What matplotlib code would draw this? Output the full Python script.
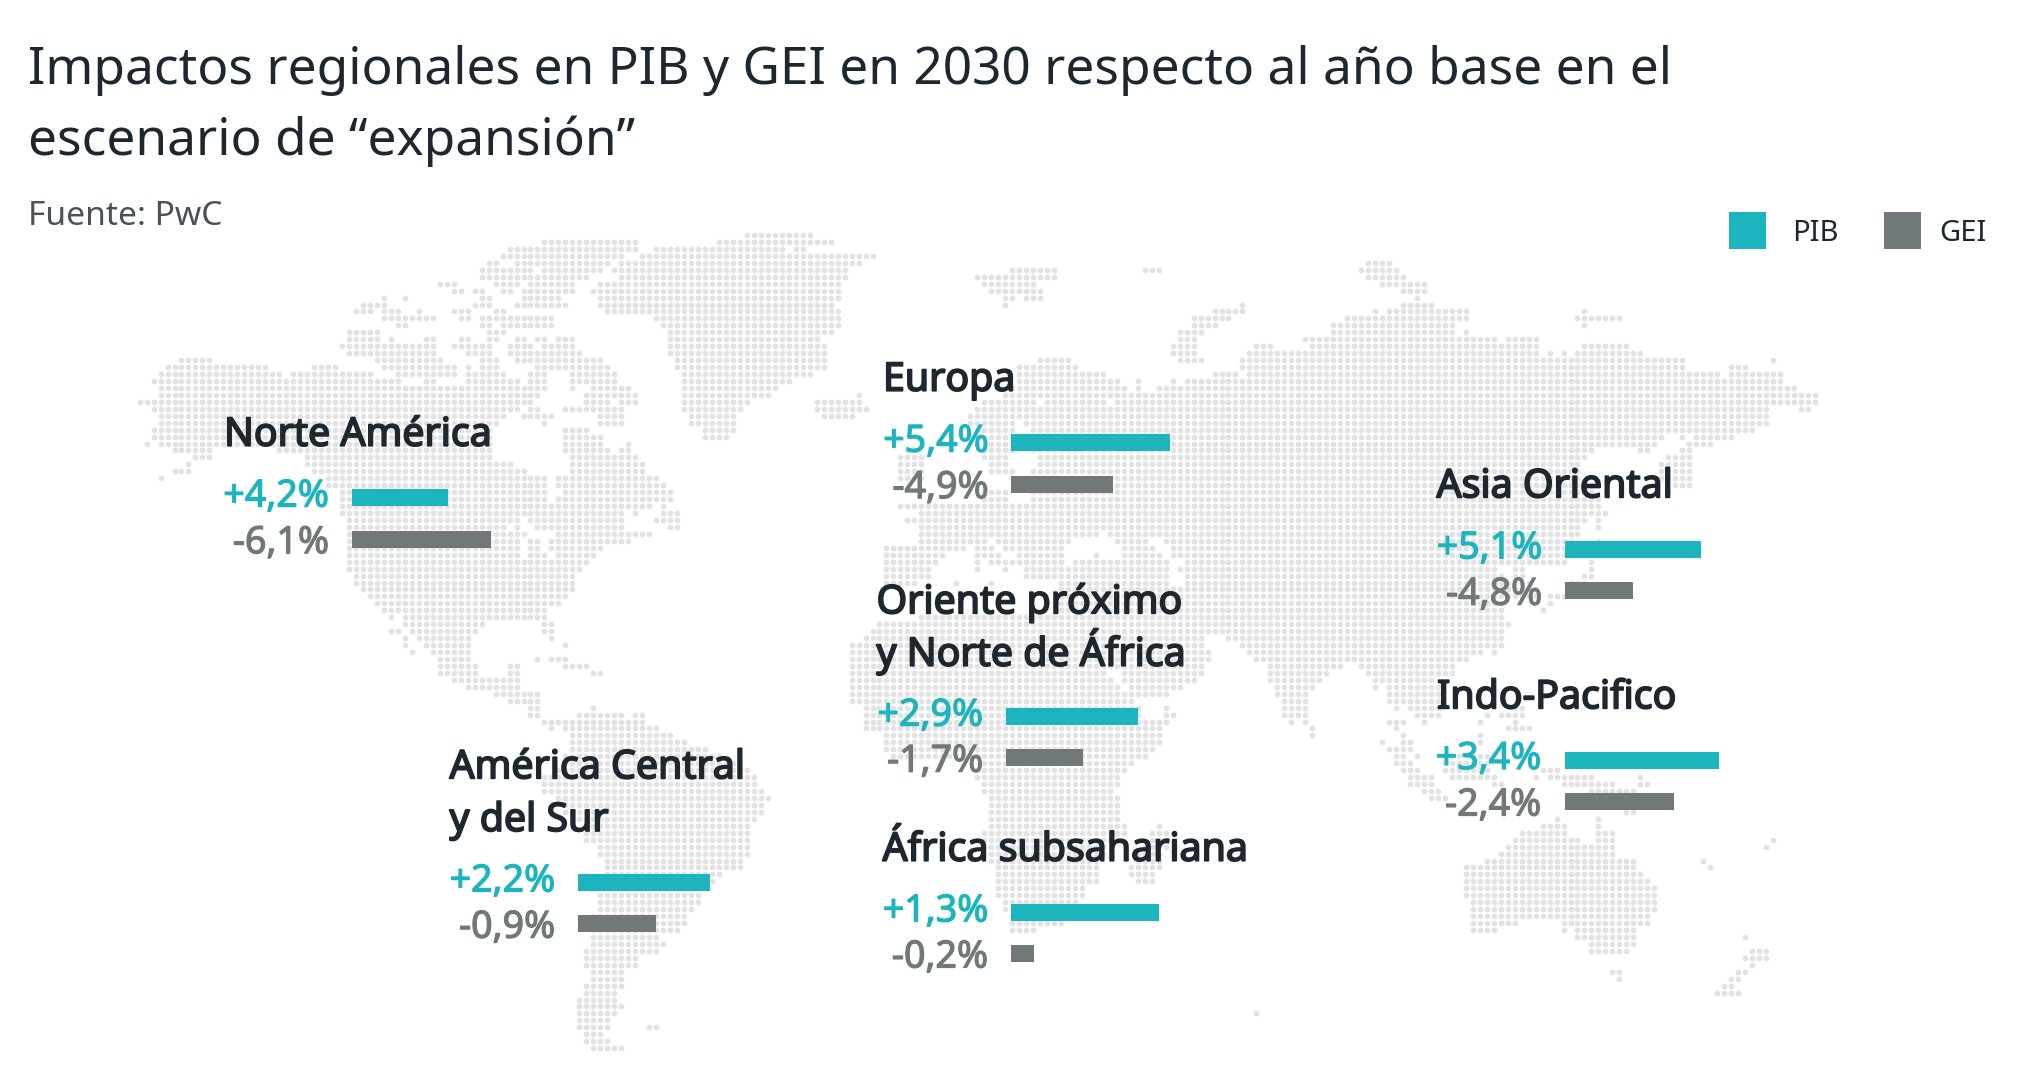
import matplotlib
matplotlib.use('Agg')
import matplotlib.pyplot as plt
import matplotlib.patheffects as pe

plt.rcParams['font.family'] = ['Noto Sans', 'Open Sans', 'DejaVu Sans']

# text and values
title_lines = ['Impactos regionales en PIB y GEI en 2030 respecto al año base en el',
               'escenario de “expansión”']
source = 'Fuente: PwC'
regions = [['Norte América'], ['América Central', 'y del Sur'], ['Europa'],
           ['Oriente próximo', 'y Norte de África'], ['África subsahariana'],
           ['Asia Oriental'], ['Indo-Pacifico']]
pib_labels = ['+4,2%', '+2,2%', '+5,4%', '+2,9%', '+1,3%', '+5,1%', '+3,4%']
gei_labels = ['-6,1%', '-0,9%', '-4,9%', '-1,7%', '-0,2%', '-4,8%', '-2,4%']
# bar lengths as drawn in the picture (they do not follow the labels)
pib_bars = [95.5, 132, 159, 132, 148, 136, 154]
gei_bars = [138.5, 78, 102, 77, 23, 68, 109]

# dot map: row -> runs of land columns
land = {
0: [(107,116)],
1: [(78,91),(103,119)],
2: [(73,91),(94,97),(98,112),(114,115)],
3: [(72,89),(92,118),(119,125)],
4: [(70,71),(74,87),(89,123),(196,199)],
5: [(69,76),(78,86),(88,121),(145,151),(164,166),(195,200)],
6: [(69,84),(89,121),(140,146),(147,151),(196,201)],
7: [(63,65),(71,74),(76,82),(86,120),(141,148),(198,204)],
8: [(65,66),(68,69),(72,73),(75,82),(85,120),(142,146),(147,149),(201,204)],
9: [(55,55),(58,58),(69,70),(75,80),(86,120),(144,145),(147,149),(203,203)],
10: [(52,55),(68,70),(74,81),(86,119),(144,144),(178,178),(201,205)],
11: [(51,53),(55,57),(60,60),(65,67),(71,72),(87,120),(174,178),(197,197),(199,210),(227,227)],
12: [(55,62),(66,67),(69,79),(94,120),(171,176),(193,210),(226,231),(232,232)],
13: [(57,58),(69,70),(72,79),(95,120),(171,174),(191,208),(227,227)],
14: [(50,54),(70,72),(96,119),(169,172),(191,208),(210,210)],
15: [(50,54),(56,56),(61,62),(66,67),(70,71),(74,75),(77,78),(80,82),(96,117),(169,171),(187,214),(216,220)],
16: [(49,53),(54,62),(65,70),(73,76),(78,82),(96,118),(168,171),(180,182),(188,220),(227,233)],
17: [(50,62),(67,70),(73,83),(96,118),(168,171),(179,182),(183,220),(222,222),(224,224),(226,235)],
18: [(26,30),(54,63),(69,71),(74,86),(97,118),(149,153),(169,172),(178,182),(183,241),(254,254)],
19: [(24,38),(45,48),(55,65),(67,67),(69,71),(77,87),(97,118),(146,154),(178,182),(183,241),(248,250)],
20: [(23,40),(42,53),(57,65),(67,72),(76,78),(82,88),(98,116),(146,158),(174,177),(179,182),(183,246),(248,255)],
21: [(22,57),(61,62),(67,74),(76,78),(82,83),(84,88),(98,113),(146,160),(163,163),(168,168),(170,182),(183,255)],
22: [(23,78),(82,82),(85,90),(98,111),(145,161),(163,163),(166,182),(183,257)],
23: [(23,77),(84,91),(98,110),(123,123),(144,156),(157,162),(163,260)],
24: [(20,76),(84,87),(89,91),(98,107),(117,123),(141,148),(150,158),(160,260)],
25: [(22,74),(76,77),(81,89),(98,106),(117,124),(140,148),(149,157),(158,253),(258,259)],
26: [(23,72),(75,79),(86,89),(99,105),(118,122),(139,146),(147,253)],
27: [(23,71),(78,78),(86,89),(99,105),(139,145),(147,253)],
28: [(22,70),(81,84),(101,105),(140,145),(148,251)],
29: [(22,70),(81,86),(101,104),(140,145),(148,238),(241,241),(243,248)],
30: [(21,21),(23,70),(81,86),(90,90),(140,145),(148,237),(242,245)],
31: [(25,30),(40,70),(81,87),(89,90),(130,131),(141,145),(148,228),(235,236),(241,242)],
32: [(28,30),(44,70),(82,91),(129,132),(141,144),(149,227),(239,242)],
33: [(27,27),(44,73),(82,92),(129,132),(142,144),(149,226),(238,242)],
34: [(25,27),(45,75),(82,92),(129,132),(142,145),(148,226),(238,242)],
35: [(23,23),(47,78),(80,94),(129,132),(148,226),(238,242)],
36: [(47,78),(80,95),(148,228),(240,242)],
37: [(49,78),(81,96),(142,144),(148,228),(239,239)],
38: [(49,78),(80,96),(141,144),(148,228),(229,229)],
39: [(49,93),(95,95),(129,131),(132,228),(229,229)],
40: [(49,49),(50,89),(91,91),(95,97),(132,228),(229,230)],
41: [(50,74),(76,89),(94,97),(130,227),(229,229)],
42: [(50,72),(74,74),(77,89),(96,97),(132,226),(229,229)],
43: [(50,75),(80,93),(132,154),(155,157),(159,226)],
44: [(50,74),(76,77),(79,90),(132,141),(143,153),(160,164),(167,225),(229,229)],
45: [(50,74),(76,77),(79,79),(80,86),(127,138),(140,142),(144,152),(161,165),(168,224)],
46: [(50,74),(76,78),(80,85),(127,135),(140,140),(141,143),(146,152),(157,157),(161,166),(168,224)],
47: [(50,84),(127,134),(140,140),(142,145),(146,152),(154,167),(170,224),(228,228)],
48: [(50,83),(127,133),(140,140),(144,144),(147,150),(151,167),(169,214),(217,218),(228,228)],
49: [(51,82),(127,133),(147,150),(151,167),(170,215),(217,218),(227,228)],
50: [(51,82),(127,131),(137,137),(142,142),(152,167),(170,219),(225,227)],
51: [(52,82),(152,220)],
52: [(53,81),(152,220),(222,224)],
53: [(54,80),(152,215),(222,222)],
54: [(55,78),(152,215),(221,221)],
55: [(56,56),(58,78),(132,215)],
56: [(58,69),(78,79),(126,216)],
57: [(56,57),(59,68),(78,79),(125,215)],
58: [(58,58),(60,67),(79,79),(124,172),(176,215)],
59: [(58,58),(61,67),(81,81),(122,172),(178,214),(215,215)],
60: [(59,59),(62,67),(122,173),(179,212),(214,214)],
61: [(63,67),(77,77),(79,81),(122,173),(180,194),(195,210)],
62: [(63,68),(73,74),(81,84),(122,172),(182,192),(195,205),(206,208)],
63: [(63,68),(73,74),(85,86),(122,158),(161,172),(182,190),(196,205),(206,208)],
64: [(65,74),(122,159),(161,171),(182,189),(197,205)],
65: [(67,74),(122,160),(162,169),(183,188),(197,197),(199,206)],
66: [(71,77),(122,161),(162,167),(183,187),(199,206)],
67: [(73,77),(122,162),(184,187),(199,206)],
68: [(76,77),(85,85),(124,163),(167,167),(184,187),(200,200),(202,206),(217,218)],
69: [(76,77),(83,89),(91,92),(124,163),(167,168),(184,187),(203,206),(213,213),(215,218)],
70: [(78,92),(124,167),(185,185),(187,187),(199,201),(204,204),(212,212),(217,217)],
71: [(79,79),(81,94),(124,166),(188,188),(200,200),(216,219)],
72: [(82,96),(127,166),(188,188),(201,201),(212,212)],
73: [(82,98),(127,166),(198,198),(201,202),(212,212)],
74: [(82,101),(127,165),(199,202)],
75: [(81,103),(128,164),(200,201),(203,203),(207,213)],
76: [(81,105),(141,162),(200,202),(207,213)],
77: [(80,107),(140,161),(201,203),(207,213),(221,223)],
78: [(78,108),(140,160),(202,205),(208,214),(220,220),(222,224),(225,228),(235,235)],
79: [(78,108),(141,160),(202,205),(214,215),(224,231),(235,236)],
80: [(78,109),(141,159),(204,206),(228,234)],
81: [(80,110),(142,160),(205,207),(231,234)],
82: [(81,109),(142,160)],
83: [(81,109),(142,160),(233,234)],
84: [(83,108),(142,160),(223,223),(229,229)],
85: [(84,107),(142,161),(166,166),(221,224),(229,229)],
86: [(84,107),(141,161),(165,167),(218,220),(221,224),(229,231)],
87: [(84,107),(141,160),(165,167),(217,226),(229,231),(254,254)],
88: [(86,107),(141,158),(164,167),(216,231),(253,253)],
89: [(86,107),(141,158),(163,166),(215,231)],
90: [(87,106),(142,157),(163,166),(213,234),(244,244)],
91: [(87,106),(143,157),(162,166),(210,234),(245,245)],
92: [(87,103),(143,157),(162,165),(210,235)],
93: [(86,102),(143,157),(163,165),(210,236)],
94: [(86,101),(143,155),(210,237)],
95: [(86,100),(143,155),(210,237)],
96: [(86,100),(144,154),(211,237)],
97: [(86,99),(144,153),(211,237)],
98: [(85,98),(145,152),(211,236)],
99: [(85,98),(145,152),(211,217),(224,236)],
100: [(85,97),(145,148),(211,214),(224,224),(226,234)],
101: [(85,94),(226,234),(250,250)],
102: [(85,95),(228,234)],
103: [(84,94),(228,233),(251,253)],
104: [(84,91),(250,253)],
105: [(84,91),(251,251)],
106: [(85,89),(231,232),(249,250)],
107: [(85,89),(232,232),(248,249)],
108: [(84,89),(247,248)],
109: [(84,88),(246,249)],
110: [(83,88)],
111: [(83,89)],
112: [(83,88),(180,180)],
113: [(83,87)],
114: [(83,87),(93,94)],
115: [(84,86)],
116: [(84,87)],
117: [(85,89)],
}

# layout in picture pixels
label_x = [224, 449.5, 883, 876.5, 882.5, 1436.5, 1437]
label_y = [445.7, 778.3, 390.7, 613.3, 860.7, 497.3, 708.3]
line_gap = [0, 52.7, 0, 52.4, 0, 0, 0]
value_x = [329, 555.4, 988.7, 983.3, 988.3, 1542.3, 1541.3]
bar_x = [352, 577.8, 1011, 1006, 1011, 1565, 1564.8]
pib_y = [497.6, 882.5, 442.7, 716.7, 912.5, 549.5, 760]
gei_y = [539.2, 923.7, 484.1, 757.7, 953.5, 590.7, 801.5]

TEAL = '#1db5bd'
GREY = '#717879'
INK = '#1d2730'
DOT = '#e2e2e2'

fig = plt.figure(figsize=(20.34, 10.9), dpi=100)
ax = fig.add_axes([0, 0, 1, 1])
ax.set_xlim(0, 2034)
ax.set_ylim(1090, 0)
ax.axis('off')

xs, ys = [], []
for row, runs in land.items():
    for a, b in runs:
        for col in range(a, b + 1):
            xs.append(col * 6.98)
            ys.append(235 + row * 6.95)
ax.scatter(xs, ys, s=17, color=DOT, linewidths=0, zorder=1)

ax.barh(pib_y, pib_bars, left=bar_x, height=17, color=TEAL, zorder=2)
ax.barh(gei_y, gei_bars, left=bar_x, height=17, color=GREY, zorder=2)


def heavy(color, width):
    # the installed Noto Sans has one weight, so thicken it with a stroke
    return [pe.withStroke(linewidth=width, foreground=color)]


for i in range(len(regions)):
    for j, line in enumerate(regions[i]):
        ax.text(label_x[i], label_y[i] + j * line_gap[i], line, fontsize=28.3, color=INK,
                va='baseline', ha='left', zorder=3, path_effects=heavy(INK, 1.3))
    ax.text(value_x[i], pib_y[i] + 9, pib_labels[i], fontsize=27, color=TEAL,
            va='baseline', ha='right', zorder=3, path_effects=heavy(TEAL, 0.9))
    ax.text(value_x[i], gei_y[i] + 14, gei_labels[i], fontsize=27, color=GREY,
            va='baseline', ha='right', zorder=3, path_effects=heavy(GREY, 0.9))

ax.text(28, 84, title_lines[0], fontsize=37, color=INK, va='baseline', ha='left')
ax.text(28, 155, title_lines[1], fontsize=37, color=INK, va='baseline', ha='left')
ax.text(28, 225, source, fontsize=24.2, color='#4a5158', va='baseline', ha='left')

# legend
ax.bar([1747.5, 1902.5], [37, 37], width=37, bottom=[211.5, 211.5], color=[TEAL, GREY], zorder=2)
ax.text(1792, 241, 'PIB', fontsize=21, color=INK, va='baseline', ha='left')
ax.text(1939, 241, 'GEI', fontsize=21, color=INK, va='baseline', ha='left')

fig.savefig('out.png', dpi=100)
